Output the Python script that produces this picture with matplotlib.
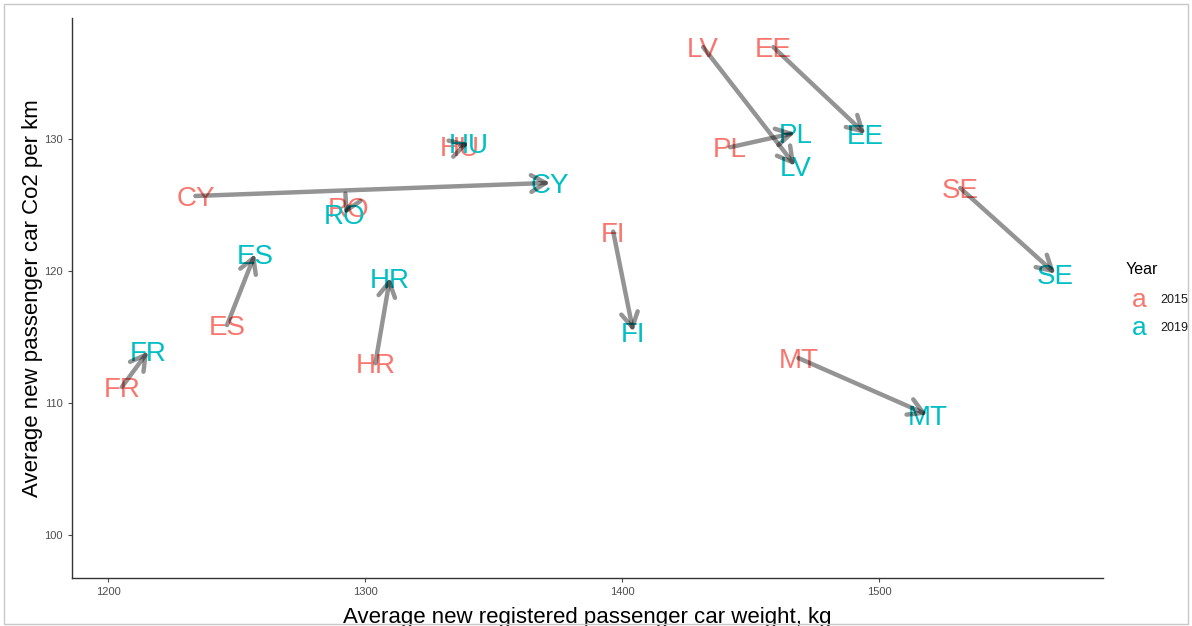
import matplotlib.pyplot as plt
import matplotlib.transforms as mtransforms
from matplotlib.patches import Rectangle

plt.rcParams['font.family'] = ['Liberation Sans', 'DejaVu Sans']

countries = ['FR', 'ES', 'CY', 'RO', 'HU', 'HR', 'FI', 'LV', 'EE', 'PL', 'SE', 'MT']
weight_2015 = [1205.4, 1246.3, 1234, 1293.5, 1337, 1304, 1396.5, 1431.5, 1458.8, 1442, 1531.5, 1468.5]
co2_2015 = [111.2, 115.9, 125.7, 124.9, 129.5, 113.0, 123.0, 137.0, 137.0, 129.4, 126.3, 113.4]
weight_2019 = [1215.6, 1257.2, 1372, 1292, 1340.5, 1309.7, 1404.3, 1467.3, 1494.6, 1467.3, 1568.5, 1518.7]
co2_2019 = [113.9, 121.3, 126.7, 124.3, 129.7, 119.5, 115.4, 128.0, 130.4, 130.5, 119.8, 109.1]
years = ['2015', '2019']
colors = ['#F8766D', '#00BFC4']

fig = plt.figure(figsize=(11.92, 6.26), dpi=100)
ax = fig.add_axes([0.0604, 0.0767, 0.8649, 0.8943])

# text sits a touch below the point, like ggplot's geom_text
txt_tr = ax.transData + mtransforms.ScaledTranslation(0, -3 / 100, fig.dpi_scale_trans)

for i, c in enumerate(countries):
    ax.text(weight_2015[i], co2_2015[i], c, color=colors[0], fontsize=20,
            ha='center', va='center', zorder=2, transform=txt_tr)
    ax.text(weight_2019[i], co2_2019[i], c, color=colors[1], fontsize=20,
            ha='center', va='center', zorder=2, transform=txt_tr)

# arrows 2015 -> 2019
for i in range(len(countries)):
    ax.annotate('', xy=(weight_2019[i], co2_2019[i]), xytext=(weight_2015[i], co2_2015[i]),
                arrowprops=dict(arrowstyle='->,head_length=1.05,head_width=0.6',
                                color='black', alpha=0.42, lw=3.2,
                                shrinkA=0, shrinkB=0),
                zorder=3)

ax.set_xlim(1186, 1587)
ax.set_ylim(96.7, 139.2)
ax.set_xticks([1200, 1300, 1400, 1500])
ax.set_yticks([100, 110, 120, 130])
ax.tick_params(colors='#4D4D4D', labelsize=8, length=3, width=0.8)
for side in ['top', 'right']:
    ax.spines[side].set_visible(False)
for side in ['left', 'bottom']:
    ax.spines[side].set_color('#333333')
    ax.spines[side].set_linewidth(1)

ax.set_xlabel('Average new registered passenger car weight, kg', fontsize=16, labelpad=7)
ax.set_ylabel('Average new passenger car Co2 per km', fontsize=16, labelpad=1)

# legend drawn by hand, ggplot style
fig.text(1126 / 1192, 1 - 270 / 626, 'Year', fontsize=11.5, ha='left', va='center')
for k, yr in enumerate(years):
    yy = 1 - (300 + 28 * k) / 626
    fig.text(1139 / 1192, yy, 'a', color=colors[k], fontsize=19, ha='center', va='center')
    fig.text(1160 / 1192, yy, yr, fontsize=9, ha='left', va='center', color='#1a1a1a')

fig.patches.append(Rectangle((0.003, 0.003), 0.994, 0.99, transform=fig.transFigure,
                             fill=False, edgecolor='#c8c8c8', lw=1))

fig.savefig('out.png', dpi=100)
